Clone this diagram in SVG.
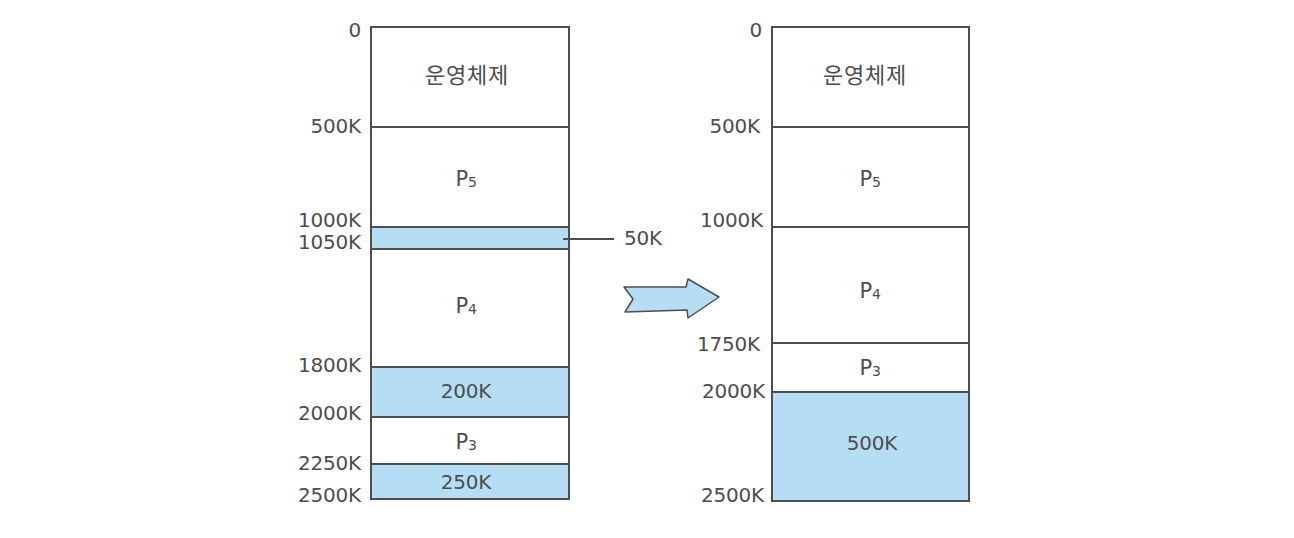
<svg xmlns="http://www.w3.org/2000/svg" width="1294" height="538" viewBox="0 0 1294 538">
<style>
text{font-family:"DejaVu Sans","Noto Sans CJK KR",sans-serif;font-size:20px;fill:#4d4d4d;letter-spacing:-0.2px}
.ko{font-family:"Noto Sans CJK KR",sans-serif;font-size:22px;letter-spacing:0.8px}
.lbl{text-anchor:end}
.mid{text-anchor:middle}
.p{font-size:21px}
.sub{font-size:14px}
.seg{stroke:#4d4d4d;stroke-width:2;fill:#fff}
.free{stroke:#4d4d4d;stroke-width:2;fill:#b5def5}
</style>
<rect width="1294" height="538" fill="#fff"/>
<g id="left-memory">
<rect class="seg" x="371" y="27" width="198" height="100"/>
<rect class="seg" x="371" y="127" width="198" height="100"/>
<rect class="free" x="371" y="227" width="198" height="22"/>
<rect class="seg" x="371" y="249" width="198" height="118"/>
<rect class="free" x="371" y="367" width="198" height="50"/>
<rect class="seg" x="371" y="417" width="198" height="47"/>
<rect class="free" x="371" y="464" width="198" height="35"/>
<text class="mid ko" x="467" y="83">운영체제</text>
<text class="mid p" x="466" y="186">P<tspan class="sub" dy="1">5</tspan></text>
<text class="mid p" x="466" y="313">P<tspan class="sub" dy="1">4</tspan></text>
<text class="mid" x="466" y="398">200K</text>
<text class="mid p" x="466" y="449">P<tspan class="sub" dy="1">3</tspan></text>
<text class="mid" x="466" y="489">250K</text>
</g>
<g id="left-labels">
<text class="lbl" x="361" y="37">0</text>
<text class="lbl" x="361" y="133">500K</text>
<text class="lbl" x="361" y="227">1000K</text>
<text class="lbl" x="361" y="249">1050K</text>
<text class="lbl" x="361" y="372">1800K</text>
<text class="lbl" x="361" y="420">2000K</text>
<text class="lbl" x="361" y="470">2250K</text>
<text class="lbl" x="361" y="502">2500K</text>
</g>
<g id="right-memory">
<rect class="seg" x="772" y="27" width="197" height="100"/>
<rect class="seg" x="772" y="127" width="197" height="100"/>
<rect class="seg" x="772" y="227" width="197" height="116"/>
<rect class="seg" x="772" y="343" width="197" height="49"/>
<rect class="free" x="772" y="392" width="197" height="109"/>
<text class="mid ko" x="865" y="83">운영체제</text>
<text class="mid p" x="870" y="186">P<tspan class="sub" dy="1">5</tspan></text>
<text class="mid p" x="870" y="298">P<tspan class="sub" dy="1">4</tspan></text>
<text class="mid p" x="870" y="375">P<tspan class="sub" dy="1">3</tspan></text>
<text class="mid" x="872" y="450">500K</text>
</g>
<g id="right-labels">
<text class="lbl" x="762" y="37">0</text>
<text class="lbl" x="760" y="133">500K</text>
<text class="lbl" x="763" y="227">1000K</text>
<text class="lbl" x="760" y="351">1750K</text>
<text class="lbl" x="765" y="398">2000K</text>
<text class="lbl" x="764" y="502">2500K</text>
</g>
<g id="connectors">
<line x1="563" y1="239" x2="614" y2="239" stroke="#4d4d4d" stroke-width="2"/>
<text x="624" y="245">50K</text>
<path d="M624,287 L686,287 L688,279 L719,297 L688,318 L687,310 L625,312 L633,299 Z" fill="#b5def5" stroke="#4d4d4d" stroke-width="1.5" stroke-linejoin="round"/>
</g>
</svg>
